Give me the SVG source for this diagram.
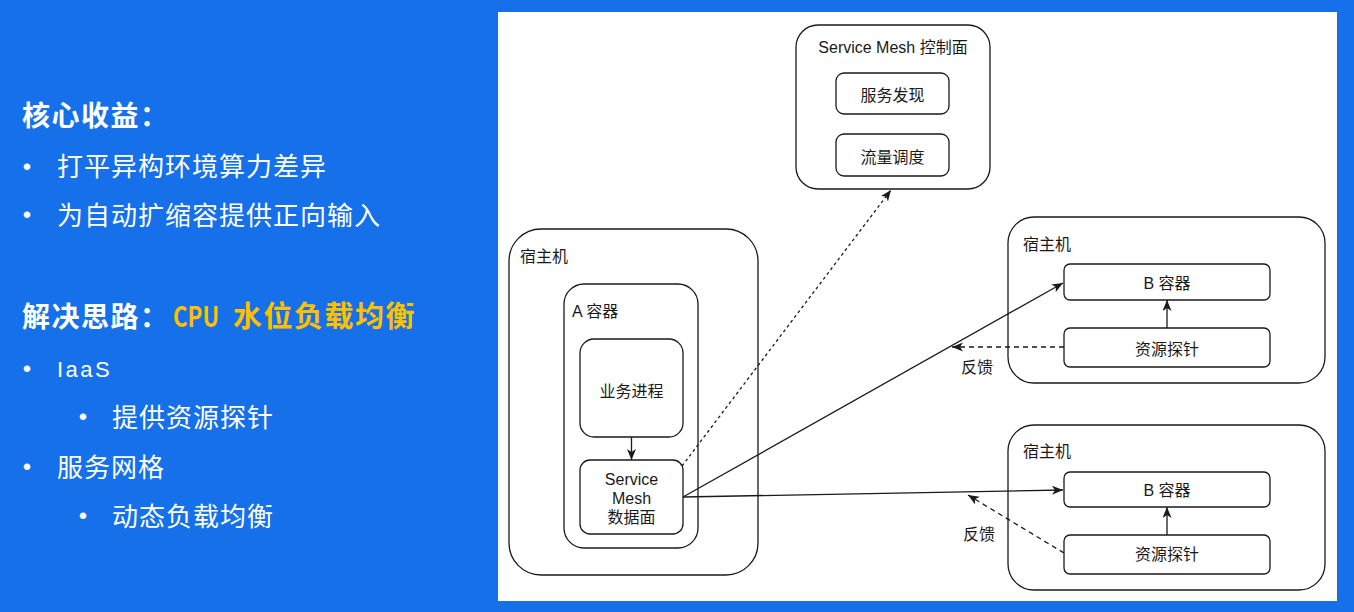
<svg xmlns="http://www.w3.org/2000/svg" width="1354" height="612" viewBox="0 0 1354 612">
<style>
.bg{fill:#1570E9}
.panel{fill:#ffffff}
.box{fill:#ffffff;stroke:#1a1a1a;stroke-width:1.3}
.lbl{font-family:"Liberation Sans","Noto Sans CJK SC",sans-serif;font-size:16px;fill:#1a1a1a}
.mid{text-anchor:middle}
.ln{fill:none;stroke:#1a1a1a;stroke-width:1.3}
.dot{stroke-dasharray:3 3}
.dash{stroke-dasharray:5 4}
.h{font-family:"Noto Sans CJK SC",sans-serif;font-size:28px;font-weight:bold;fill:#ffffff;letter-spacing:1.5px}
.t{font-family:"Noto Sans CJK SC",sans-serif;font-size:26px;fill:#ffffff;letter-spacing:1px}
.b{font-family:"Liberation Sans",sans-serif;font-size:24px;fill:#ffffff;text-anchor:middle}
.o{fill:#FFC000}
</style>
<defs>
<marker id="arr" markerUnits="userSpaceOnUse" markerWidth="12" markerHeight="10" refX="11" refY="4.5" orient="auto">
<path d="M0,0 L11,4.5 L0,9 L3,4.5 z" fill="#1a1a1a"/>
</marker>
</defs>
<rect class="bg" x="0" y="0" width="1354" height="612"/>
<rect class="panel" x="498" y="12" width="839" height="589"/>

<g id="left-text">
<text class="h" x="22" y="126">核心收益：</text>
<text class="b" x="27" y="175">•</text>
<text class="t" x="57" y="176">打平异构环境算力差异</text>
<text class="b" x="27" y="223">•</text>
<text class="t" x="57" y="225">为自动扩缩容提供正向输入</text>
<text class="h" x="22" y="327">解决思路：<tspan class="o" x="173" letter-spacing="0" textLength="46" lengthAdjust="spacingAndGlyphs">CPU</tspan><tspan class="o" x="233" font-size="29">水位负载均衡</tspan></text>
<text class="b" x="27" y="377">•</text>
<text x="57" y="377" font-family="Liberation Sans,sans-serif" font-size="22" letter-spacing="2.5" fill="#ffffff">IaaS</text>
<text class="b" x="83" y="425">•</text>
<text class="t" x="112" y="427">提供资源探针</text>
<text class="b" x="27" y="475">•</text>
<text class="t" x="57" y="477">服务网格</text>
<text class="b" x="83" y="524">•</text>
<text class="t" x="112" y="526">动态负载均衡</text>
</g>

<g id="control-plane">
<rect class="box" x="796" y="25" width="194" height="164" rx="22"/>
<text class="lbl mid" x="893" y="53">Service Mesh 控制面</text>
</g>
<g id="service-discovery">
<rect class="box" x="836" y="73" width="113" height="41" rx="8"/>
<text class="lbl mid" x="892.5" y="101">服务发现</text>
</g>
<g id="traffic-scheduling">
<rect class="box" x="836" y="134" width="113" height="42" rx="8"/>
<text class="lbl mid" x="892.5" y="163">流量调度</text>
</g>

<g id="host-a">
<rect class="box" x="509" y="229" width="249" height="346" rx="32"/>
<text class="lbl" x="520" y="262">宿主机</text>
</g>
<g id="container-a">
<rect class="box" x="564" y="284" width="134" height="264" rx="20"/>
<text class="lbl" x="572" y="317">A 容器</text>
</g>
<g id="business-process">
<rect class="box" x="580" y="339" width="103" height="98" rx="14"/>
<text class="lbl mid" x="631.5" y="397">业务进程</text>
</g>
<g id="data-plane">
<rect class="box" x="580" y="460" width="103" height="74" rx="10"/>
<text class="lbl mid" x="631.5" y="485">Service</text>
<text class="lbl mid" x="631.5" y="504">Mesh</text>
<text class="lbl mid" x="631.5" y="523">数据面</text>
</g>

<g id="host-b1">
<rect class="box" x="1008" y="217" width="317" height="166" rx="26"/>
<text class="lbl" x="1023" y="250">宿主机</text>
</g>
<g id="container-b1">
<rect class="box" x="1064" y="264" width="206" height="36" rx="6"/>
<text class="lbl mid" x="1167" y="289">B 容器</text>
</g>
<g id="probe-b1">
<rect class="box" x="1064" y="328" width="206" height="39" rx="6"/>
<text class="lbl mid" x="1167" y="355">资源探针</text>
</g>

<g id="host-b2">
<rect class="box" x="1008" y="425" width="317" height="165" rx="26"/>
<text class="lbl" x="1023" y="457">宿主机</text>
</g>
<g id="container-b2">
<rect class="box" x="1064" y="472" width="206" height="35" rx="6"/>
<text class="lbl mid" x="1167" y="496">B 容器</text>
</g>
<g id="probe-b2">
<rect class="box" x="1064" y="535" width="206" height="39" rx="6"/>
<text class="lbl mid" x="1167" y="560">资源探针</text>
</g>

<g id="connectors">
<line class="ln" x1="631.5" y1="437" x2="631.5" y2="460" marker-end="url(#arr)"/>
<line class="ln dot" x1="682" y1="466" x2="891" y2="190" marker-end="url(#arr)"/>
<line class="ln" x1="683" y1="497" x2="1063" y2="283" marker-end="url(#arr)"/>
<line class="ln" x1="683" y1="497" x2="1063" y2="490" marker-end="url(#arr)"/>
<line class="ln" x1="1167" y1="328" x2="1167" y2="300" marker-end="url(#arr)"/>
<line class="ln" x1="1167" y1="535" x2="1167" y2="507" marker-end="url(#arr)"/>
<line class="ln dash" x1="1064" y1="347" x2="952" y2="347" marker-end="url(#arr)"/>
<line class="ln dash" x1="1064" y1="553" x2="968" y2="495" marker-end="url(#arr)"/>
<text class="lbl mid" x="977" y="373">反馈</text>
<text class="lbl mid" x="979" y="540">反馈</text>
</g>
</svg>
